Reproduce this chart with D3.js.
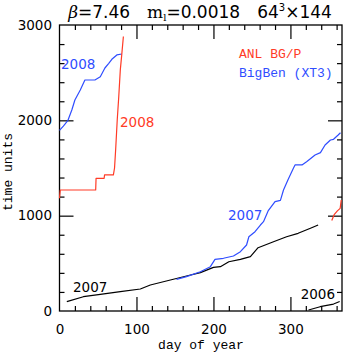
<!DOCTYPE html>
<html>
<head>
<meta charset="utf-8">
<script src="https://cdn.jsdelivr.net/npm/d3@7"></script>
<style>
  body { margin: 0; background: #fff; }
  svg { display: block; }
  .num { font-family: "DejaVu Sans", sans-serif; font-size: 13.5px; }
  .mono { font-family: "Liberation Mono", "DejaVu Sans Mono", monospace; font-size: 13px; }
</style>
</head>
<body>
<div id="chart"></div>
<script>
(function(d3) {
  'use strict';

  var width = 345;
  var height = 354;
  var red = '#ff3b26';
  var blue = '#2f4dff';

  // BigBen (XT3), 2008
  var bigben2008Days = [0, 5, 11, 16, 20, 27, 33, 46, 53, 59, 64, 68, 74.5, 81];
  var bigben2008Time = [1895, 1940, 2000, 2108, 2213, 2318, 2423, 2423, 2458, 2549, 2598, 2640, 2686, 2696];

  // ANL BG/P, 2008
  var anl2008Days = [0, 1, 47, 47.5, 58, 58.5, 70, 71.5, 73, 75, 77, 79, 81, 83];
  var anl2008Time = [1182, 1269, 1269, 1392, 1392, 1427, 1427, 1500, 1700, 2004, 2250, 2529, 2700, 2880];

  // BigBen (XT3), 2007
  var bigben2007Days = [152, 165, 183, 196, 202, 213, 226, 235, 243, 246, 254, 261, 265, 271, 280, 287, 291, 297, 304, 306, 315, 321, 332, 339, 345, 352, 356, 362, 365];
  var bigben2007Time = [332, 360, 412, 465, 542, 553, 577, 622, 692, 779, 832, 902, 937, 1050, 1147, 1160, 1269, 1380, 1500, 1532, 1532, 1566, 1636, 1661, 1741, 1794, 1801, 1846, 1870];

  // ANL BG/P, 2007 (end of year)
  var anl2007Days = [353.7, 356.8, 361, 364.6, 366];
  var anl2007Time = [950, 1010, 1050, 1077, 1164];

  // black, 2007
  var black2007Days = [9.5, 31, 53, 79, 105, 118, 144, 165, 183, 200, 209, 220, 235, 248, 258, 278, 295, 310, 326, 336];
  var black2007Time = [98, 150, 175, 203, 231, 273, 325, 367, 402, 458, 465, 517, 542, 570, 664, 727, 779, 815, 868, 902];

  // black, 2006
  var black2006Days = [323.5, 338.6, 356, 364];
  var black2006Time = [10, 45, 73, 100];

  var xMajor = [0, 100, 200, 300];
  var yMajor = [0, 1000, 2000, 3000];

  var x = d3.scaleLinear().domain([0, 367]).range([59.5, 342]);
  var y = d3.scaleLinear().domain([0, 3000]).range([311, 25]);

  var xMinor = d3.range(20, 367, 20).filter(function(d) { return d % 100 !== 0; });
  var yMinor = d3.range(200, 3000, 200).filter(function(d) { return d % 1000 !== 0; });

  var svg = d3.select('#chart')
    .append('svg')
    .attr('width', width)
    .attr('height', height);

  // ticks, all pointing inward on all four sides
  function tickGroup(axis, tx, ty) {
    var g = svg.append('g')
      .attr('transform', 'translate(' + tx + ',' + ty + ')')
      .call(axis);
    g.select('.domain').remove();
    g.selectAll('line').attr('stroke', '#000').attr('stroke-width', 1.2);
    return g;
  }

  tickGroup(d3.axisBottom(x).tickValues(xMinor).tickSize(-5).tickFormat(''), 0, y(0));
  tickGroup(d3.axisTop(x).tickValues(xMinor).tickSize(-5).tickFormat(''), 0, y(3000));
  tickGroup(d3.axisTop(x).tickValues([100, 200, 300]).tickSize(-14).tickFormat(''), 0, y(3000));
  tickGroup(d3.axisLeft(y).tickValues(yMinor).tickSize(-5).tickFormat(''), x(0), 0);
  tickGroup(d3.axisRight(y).tickValues(yMinor).tickSize(-5).tickFormat(''), x(367), 0);
  tickGroup(d3.axisRight(y).tickValues([1000, 2000]).tickSize(-14).tickFormat(''), x(367), 0);

  var xAxis = tickGroup(d3.axisBottom(x).tickValues(xMajor).tickSize(-14).tickPadding(13).tickFormat(d3.format('d')), 0, y(0));
  xAxis.selectAll('text').attr('class', 'num').attr('fill', '#000');
  xAxis.selectAll('.tick').filter(function(d) { return d === 0; }).select('line').remove();

  var yAxis = tickGroup(d3.axisLeft(y).tickValues(yMajor).tickSize(-14).tickPadding(7.5).tickFormat(d3.format('d')), x(0), 0);
  yAxis.selectAll('text').attr('class', 'num').attr('fill', '#000');
  yAxis.selectAll('.tick').filter(function(d) { return d === 0 || d === 3000; }).select('line').remove();

  // frame
  svg.append('rect')
    .attr('x', x(0))
    .attr('y', y(3000))
    .attr('width', x(367) - x(0))
    .attr('height', y(0) - y(3000))
    .attr('fill', 'none')
    .attr('stroke', '#000')
    .attr('stroke-width', 1.3);

  var line = d3.line()
    .x(function(d) { return x(d[0]); })
    .y(function(d) { return y(d[1]); });

  function series(days, vals, color) {
    svg.append('path')
      .datum(d3.zip(days, vals))
      .attr('d', line)
      .attr('fill', 'none')
      .attr('stroke', color)
      .attr('stroke-width', 1.2)
      .attr('stroke-linejoin', 'round');
  }

  series(black2007Days, black2007Time, '#000');
  series(black2006Days, black2006Time, '#000');
  series(bigben2007Days, bigben2007Time, blue);
  series(bigben2008Days, bigben2008Time, blue);
  series(anl2008Days, anl2008Time, red);
  series(anl2007Days, anl2007Time, red);

  // year labels
  function label(px, py, txt, color, anchor) {
    svg.append('text')
      .attr('class', 'num')
      .attr('x', px)
      .attr('y', py)
      .attr('fill', color)
      .attr('text-anchor', anchor || 'start')
      .text(txt);
  }
  label(61, 69, '2008', blue);
  label(120, 127, '2008', red);
  label(228, 220, '2007', blue);
  label(73, 292, '2007', '#000');
  label(335, 299, '2006', '#000', 'end');

  // legend
  svg.append('text').attr('class', 'mono').attr('x', 239).attr('y', 58)
    .attr('fill', red).text('ANL BG/P');
  svg.append('text').attr('class', 'mono').attr('x', 239).attr('y', 77)
    .attr('fill', blue).text('BigBen (XT3)');

  // axis titles
  svg.append('text').attr('class', 'mono')
    .attr('x', 201).attr('y', 349)
    .attr('text-anchor', 'middle')
    .text('day of year');

  svg.append('text').attr('class', 'mono')
    .attr('transform', 'translate(12,172) rotate(-90)')
    .attr('text-anchor', 'middle')
    .text('time units');

  // title: greek/letters in serif, numbers in the wider sans
  var title = svg.append('text')
    .attr('x', 200)
    .attr('y', 18)
    .attr('text-anchor', 'middle')
    .style('font-family', '"DejaVu Sans", sans-serif')
    .style('font-size', '17px');
  var serif = '"DejaVu Serif", serif';
  title.append('tspan').style('font-family', serif).style('font-style', 'italic').text('\u03b2');
  title.append('tspan').text('=7.46\u2002\u2002');
  title.append('tspan').style('font-family', serif).text('m');
  title.append('tspan').attr('dy', 3).style('font-family', serif).style('font-size', '10px').text('l');
  title.append('tspan').attr('dy', -3).text('=0.0018\u2002\u200264');
  title.append('tspan').attr('dy', -7).style('font-size', '10px').text('3');
  title.append('tspan').attr('dy', 7).text('\u00d7144');

})(window.d3);
</script>
</body>
</html>
